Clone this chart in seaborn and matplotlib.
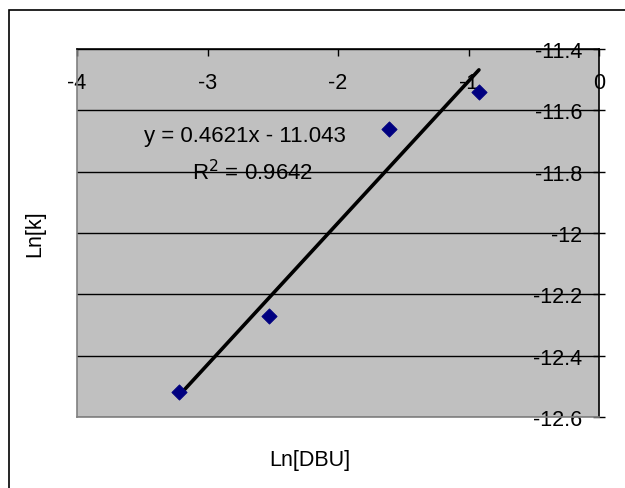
import matplotlib
matplotlib.use("Agg")
import matplotlib.pyplot as plt
import seaborn as sns
import numpy as np
import pandas as pd
from matplotlib.patches import Rectangle

# Dados
ln_dbu = [-3.22, -2.53, -1.61, -0.92]
ln_k = [-12.52, -12.27, -11.66, -11.54]

# Linha de tendência (Excel)
slope = 0.4621
intercept = -11.043
eq_text = "y = 0.4621x - 11.043"
r2_text = "R$^2$ = 0.9642"

x_ticks = [-4, -3, -2, -1, 0]
y_ticks = [-11.4, -11.6, -11.8, -12.0, -12.2, -12.4, -12.6]
y_labels = ["-11.4", "-11.6", "-11.8", "-12", "-12.2", "-12.4", "-12.6"]

df = pd.DataFrame({"Ln[DBU]": ln_dbu, "Ln[k]": ln_k})

sns.set_style("white")
plt.rcParams["font.family"] = ["Liberation Sans", "DejaVu Sans"]
plt.rcParams["text.color"] = "black"

fig = plt.figure(figsize=(6.25, 4.89), dpi=100)
ax = fig.add_axes([0.1232, 0.1452, 0.8352, 0.7526])

# moldura externa
fig.patches.append(Rectangle((9 / 625, -0.05), 1.2, 1 - 11 / 489 + 0.05,
                             transform=fig.transFigure, fill=False,
                             edgecolor="black", linewidth=1.2, zorder=0))

ax.set_facecolor("#C0C0C0")
ax.set_xlim(-4, 0)
ax.set_ylim(-12.6, -11.4)

for yv in y_ticks:
    ax.axhline(yv, color="black", linewidth=1, zorder=1)

xs = np.array([min(ln_dbu), max(ln_dbu)])
ax.plot(xs, slope * xs + intercept, color="black", linewidth=2.6, zorder=3)

sns.scatterplot(data=df, x="Ln[DBU]", y="Ln[k]", ax=ax, marker="D", s=60,
                color="#000080", edgecolor="#000080", zorder=4)

# eixo x no topo, eixo y à direita
ax.xaxis.set_ticks_position("top")
ax.yaxis.set_ticks_position("right")
ax.set_xticks(x_ticks)
ax.set_xticklabels([str(v) for v in x_ticks])
ax.set_yticks(y_ticks)
ax.set_yticklabels(y_labels)
ax.tick_params(axis="x", direction="in", length=5, width=1, pad=-32,
               labelsize=15.5, colors="black")
ax.tick_params(axis="y", direction="inout", length=8, width=1, pad=-16,
               labelsize=15.5, colors="black")
for lab in ax.get_yticklabels():
    lab.set_horizontalalignment("right")

ax.spines["top"].set_color("black")
ax.spines["right"].set_color("black")
ax.spines["left"].set_color("#808080")
ax.spines["bottom"].set_color("#808080")
for s in ax.spines.values():
    s.set_linewidth(1.2)

ax.set_xlabel("")
ax.set_ylabel("")
fig.text(310 / 625, 1 - 461 / 489, "Ln[DBU]", ha="center", va="center", fontsize=15.5)
fig.text(35 / 625, 1 - 234 / 489, "Ln[k]", ha="center", va="center", fontsize=15.5,
         rotation=90)

fig.text(245 / 625, 1 - 137 / 489, eq_text, ha="center", va="center", fontsize=16)
fig.text(253 / 625, 1 - 173 / 489, r2_text, ha="center", va="center", fontsize=16)

fig.savefig("out.png", dpi=100)
